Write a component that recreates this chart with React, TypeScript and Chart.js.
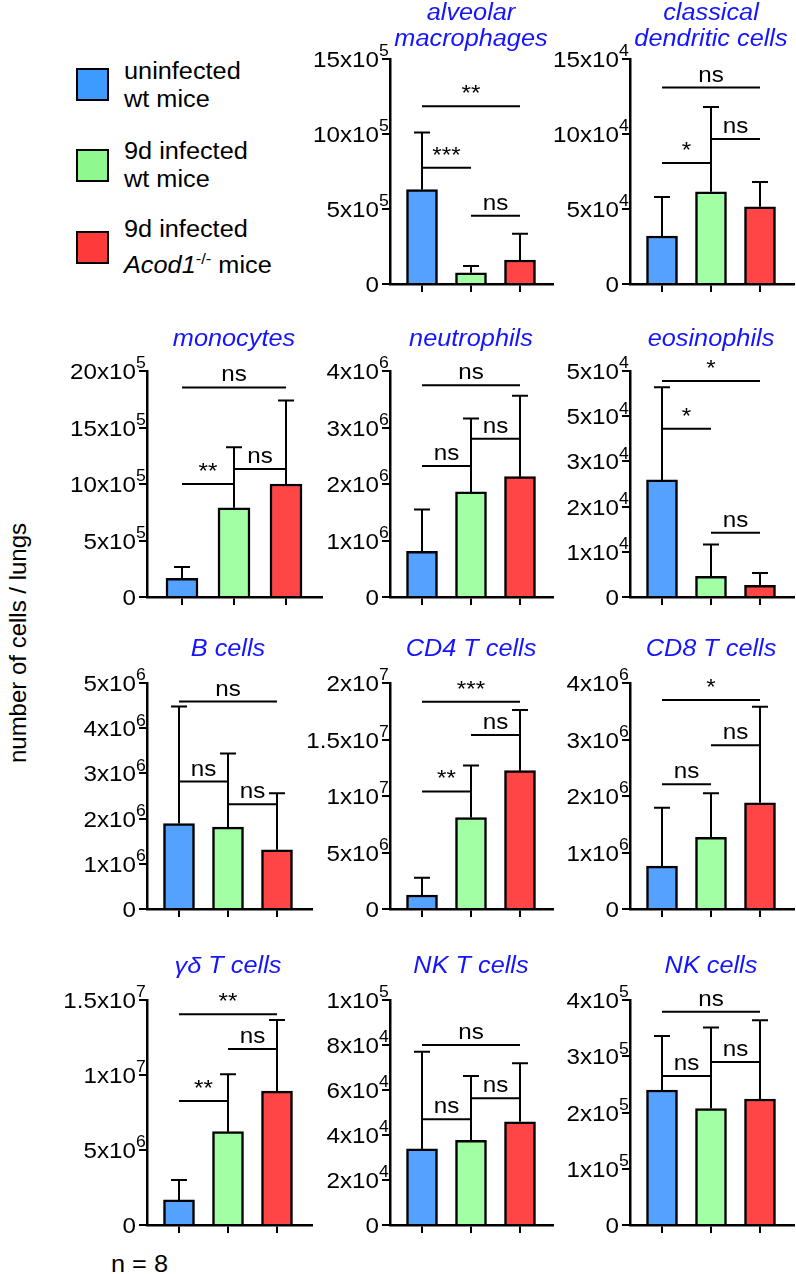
import React, { useEffect, useRef } from 'react';
import { Chart, registerables } from 'chart.js';
Chart.register(...registerables);

const FONT = '"Liberation Sans", Arial, Helvetica, sans-serif';
const SX = 1.1; // horizontal text stretch seen in the reference
const TITLE_COLOR = '#1414FF';

// ---------- data ----------
const groups = ['uninfected wt mice', '9d infected wt mice', '9d infected Acod1-/- mice'];
const barColors = ['#55A1FF', '#A3FFA3', '#FF4545'];
const legendColors = ['#3D9BFF', '#8FF88F', '#FF3A3A'];
const categories = [0, 1, 2];

const amMean = [6.3e5, 0.75e5, 1.6e5];
const amSD = [3.8e5, 0.45e5, 1.75e5];
const amTicks = ['0', '5x10^5', '10x10^5', '15x10^5'];
const amSig = [[0, 2, 11.85e5, '**'], [0, 1, 7.75e5, '***'], [1, 2, 4.55e5, 'ns']];

const cdcMean = [3.2e4, 6.15e4, 5.15e4];
const cdcSD = [2.6e4, 5.65e4, 1.65e4];
const cdcTicks = ['0', '5x10^4', '10x10^4', '15x10^4'];
const cdcSig = [[0, 2, 13.1e4, 'ns'], [0, 1, 8.07e4, '*'], [1, 2, 9.67e4, 'ns']];

const monoMean = [1.65e5, 7.9e5, 10.0e5];
const monoSD = [1.0e5, 5.35e5, 7.4e5];
const monoTicks = ['0', '5x10^5', '10x10^5', '15x10^5', '20x10^5'];
const monoSig = [[0, 2, 18.55e5, 'ns'], [0, 1, 10.0e5, '**'], [1, 2, 11.33e5, 'ns']];

const neuMean = [0.81e6, 1.86e6, 2.13e6];
const neuSD = [0.74e6, 1.3e6, 1.43e6];
const neuTicks = ['0', '1x10^6', '2x10^6', '3x10^6', '4x10^6'];
const neuSig = [[0, 2, 3.75e6, 'ns'], [0, 1, 2.32e6, 'ns'], [1, 2, 2.8e6, 'ns']];

const eosMean = [2.59e4, 0.46e4, 0.26e4];
const eosSD = [2.05e4, 0.7e4, 0.27e4];
const eosTicks = ['0', '1x10^4', '2x10^4', '3x10^4', '5x10^4', '5x10^4'];
const eosSig = [[0, 2, 4.78e4, '*'], [0, 1, 3.72e4, '*'], [1, 2, 1.42e4, 'ns']];

const bMean = [1.89e6, 1.81e6, 1.31e6];
const bSD = [2.59e6, 1.63e6, 1.25e6];
const bTicks = ['0', '1x10^6', '2x10^6', '3x10^6', '4x10^6', '5x10^6'];
const bSig = [[0, 2, 4.59e6, 'ns'], [0, 1, 2.82e6, 'ns'], [1, 2, 2.32e6, 'ns']];

const cd4Mean = [1.24e6, 8.1e6, 12.24e6];
const cd4SD = [1.53e6, 4.6e6, 5.36e6];
const cd4Ticks = ['0', '5x10^6', '1x10^7', '1.5x10^7', '2x10^7'];
const cd4Sig = [[0, 2, 1.835e7, '***'], [0, 1, 1.04e7, '**'], [1, 2, 1.54e7, 'ns']];

const cd8Mean = [0.76e6, 1.27e6, 1.88e6];
const cd8SD = [1.03e6, 0.78e6, 1.7e6];
const cd8Ticks = ['0', '1x10^6', '2x10^6', '3x10^6', '4x10^6'];
const cd8Sig = [[0, 2, 3.7e6, '*'], [0, 1, 2.21e6, 'ns'], [1, 2, 2.9e6, 'ns']];

const gdMean = [1.67e6, 6.22e6, 8.93e6];
const gdSD = [1.33e6, 3.83e6, 4.74e6];
const gdTicks = ['0', '5x10^6', '1x10^7', '1.5x10^7'];
const gdSig = [[0, 2, 1.405e7, '**'], [0, 1, 0.827e7, '**'], [1, 2, 1.173e7, 'ns']];

const nktMean = [3.38e4, 3.76e4, 4.59e4];
const nktSD = [4.32e4, 2.86e4, 2.6e4];
const nktTicks = ['0', '2x10^4', '4x10^4', '6x10^4', '8x10^4', '1x10^5'];
const nktSig = [[0, 2, 8.0e4, 'ns'], [0, 1, 4.7e4, 'ns'], [1, 2, 5.63e4, 'ns']];

const nkMean = [2.4e5, 2.07e5, 2.24e5];
const nkSD = [0.96e5, 1.44e5, 1.4e5];
const nkTicks = ['0', '1x10^5', '2x10^5', '3x10^5', '4x10^5'];
const nkSig = [[0, 2, 3.79e5, 'ns'], [0, 1, 2.65e5, 'ns'], [1, 2, 2.9e5, 'ns']];

// ---------- layout ----------
const COL = {
  c1: { axisX: 147, c0: 179, c2: 277, endX: 312, barW: 31 },
  c1m: { axisX: 147, c0: 182, c2: 286, endX: 322, barW: 32 },
  c2: { axisX: 390, c0: 422, c2: 520, endX: 553, barW: 31 },
  c3: { axisX: 630, c0: 662, c2: 760, endX: 794, barW: 31 },
};
const ROW = [
  { top: 59, bottom: 284, titleBase: [20, 46] },
  { top: 371, bottom: 597, titleBase: [346] },
  { top: 683, bottom: 909, titleBase: [656] },
  { top: 1000, bottom: 1225, titleBase: [973] },
];

const panels = [
  { title: ['alveolar', 'macrophages'], mean: amMean, sd: amSD, ticks: amTicks, step: 5e5, sig: amSig, col: COL.c2, row: ROW[0] },
  { title: ['classical', 'dendritic cells'], mean: cdcMean, sd: cdcSD, ticks: cdcTicks, step: 5e4, sig: cdcSig, col: COL.c3, row: ROW[0] },
  { title: ['monocytes'], mean: monoMean, sd: monoSD, ticks: monoTicks, step: 5e5, sig: monoSig, col: COL.c1m, row: ROW[1] },
  { title: ['neutrophils'], mean: neuMean, sd: neuSD, ticks: neuTicks, step: 1e6, sig: neuSig, col: COL.c2, row: ROW[1] },
  { title: ['eosinophils'], mean: eosMean, sd: eosSD, ticks: eosTicks, step: 1e4, sig: eosSig, col: COL.c3, row: ROW[1] },
  { title: ['B cells'], mean: bMean, sd: bSD, ticks: bTicks, step: 1e6, sig: bSig, col: COL.c1, row: ROW[2] },
  { title: ['CD4 T cells'], mean: cd4Mean, sd: cd4SD, ticks: cd4Ticks, step: 5e6, sig: cd4Sig, col: COL.c2, row: ROW[2] },
  { title: ['CD8 T cells'], mean: cd8Mean, sd: cd8SD, ticks: cd8Ticks, step: 1e6, sig: cd8Sig, col: COL.c3, row: ROW[2] },
  { title: ['γδ T cells'], mean: gdMean, sd: gdSD, ticks: gdTicks, step: 5e6, sig: gdSig, col: COL.c1, row: ROW[3] },
  { title: ['NK T cells'], mean: nktMean, sd: nktSD, ticks: nktTicks, step: 2e4, sig: nktSig, col: COL.c2, row: ROW[3] },
  { title: ['NK cells'], mean: nkMean, sd: nkSD, ticks: nkTicks, step: 1e5, sig: nkSig, col: COL.c3, row: ROW[3] },
];

const L = 95; // label space left of y axis
const PT = 59; // space above plot
const XH = 14; // x-axis tick space
const PR = 4;

function drawText(ctx: CanvasRenderingContext2D, text: string, x: number, y: number, align: string, font: string, baseline: CanvasTextBaseline = 'alphabetic') {
  ctx.save();
  ctx.font = font;
  const w = ctx.measureText(text).width * SX;
  let lx = x;
  if (align === 'center') lx = x - w / 2;
  else if (align === 'right') lx = x - w;
  ctx.translate(lx, y);
  ctx.scale(SX, 1);
  ctx.textAlign = 'left';
  ctx.textBaseline = baseline;
  ctx.fillText(text, 0, 0);
  ctx.restore();
  return w;
}

function makePlugin(p: any, canvasTop: number) {
  return {
    id: 'panelDecor',
    afterDatasetsDraw(chart: any) {
      const ctx: CanvasRenderingContext2D = chart.ctx;
      const xs = chart.scales.x;
      const ys = chart.scales.y;
      ctx.save();
      ctx.strokeStyle = '#000';
      ctx.fillStyle = '#000';
      ctx.lineWidth = 2;
      // error bars (upper whisker)
      p.mean.forEach((m: number, i: number) => {
        const x = xs.getPixelForValue(categories[i]);
        const y1 = ys.getPixelForValue(m);
        const y2 = ys.getPixelForValue(m + p.sd[i]);
        ctx.beginPath();
        ctx.moveTo(x, y1);
        ctx.lineTo(x, y2);
        ctx.moveTo(x - 8, y2);
        ctx.lineTo(x + 8, y2);
        ctx.stroke();
      });
      // significance brackets
      p.sig.forEach((s: any) => {
        const xa = xs.getPixelForValue(s[0]);
        const xb = xs.getPixelForValue(s[1]);
        const y = ys.getPixelForValue(s[2]);
        ctx.beginPath();
        ctx.moveTo(xa, y);
        ctx.lineTo(xb, y);
        ctx.stroke();
        drawText(ctx, s[3], (xa + xb) / 2, y - 6, 'center', `22px ${FONT}`);
      });
      // y tick labels with superscripts
      const ax = chart.chartArea.left;
      p.ticks.forEach((lab: string, i: number) => {
        const y = ys.getPixelForValue(i * p.step);
        const [base, sup] = lab.split('^');
        drawText(ctx, base, ax - 11, y + 2, 'right', `22px ${FONT}`, 'middle');
        if (sup) drawText(ctx, sup, ax - 11, y - 7, 'left', `16px ${FONT}`, 'middle');
      });
      // title
      ctx.fillStyle = TITLE_COLOR;
      const cx = xs.getPixelForValue(1);
      p.title.forEach((t: string, k: number) => {
        drawText(ctx, t, cx, p.row.titleBase[k] - canvasTop, 'center', `italic 23px ${FONT}`);
      });
      ctx.restore();
    },
  };
}

function Panel({ p }: { p: any }) {
  const ref = useRef<HTMLCanvasElement>(null);
  const left = p.col.axisX - L;
  const top = p.row.top - PT;
  const width = L + (p.col.endX - p.col.axisX) + PR;
  const height = PT + (p.row.bottom - p.row.top) + XH;
  useEffect(() => {
    const s = (p.col.c2 - p.col.c0) / 2;
    const xmin = -(p.col.c0 - p.col.axisX) / s;
    const xmax = 2 + (p.col.endX - p.col.c2) / s;
    const axisCommon = {
      grid: { display: true, drawOnChartArea: false, drawTicks: true, tickLength: 8, color: '#000', lineWidth: 2, offset: false },
      border: { display: true, color: '#000', width: 2.5 },
      ticks: { display: false },
    };
    const chart = new Chart(ref.current as HTMLCanvasElement, {
      type: 'bar',
      data: {
        datasets: [
          {
            data: p.mean.map((v: number, i: number) => ({ x: categories[i], y: v })),
            backgroundColor: barColors,
            borderColor: '#000',
            borderWidth: 2.5,
            borderSkipped: 'start',
            barThickness: p.col.barW,
          } as any,
        ],
      },
      options: {
        animation: false,
        responsive: false,
        devicePixelRatio: 1,
        layout: { padding: { top: PT, right: PR, left: 0, bottom: 0 } },
        plugins: { legend: { display: false }, tooltip: { enabled: false }, title: { display: false } },
        scales: {
          x: {
            ...axisCommon,
            type: 'linear',
            min: xmin,
            max: xmax,
            offset: false,
            afterBuildTicks: (sc: any) => {
              sc.ticks = categories.map((v) => ({ value: v }));
            },
            afterFit: (sc: any) => {
              sc.height = XH;
            },
          },
          y: {
            ...axisCommon,
            type: 'linear',
            min: 0,
            max: (p.ticks.length - 1) * p.step,
            afterBuildTicks: (sc: any) => {
              sc.ticks = p.ticks.map((_: string, i: number) => ({ value: i * p.step }));
            },
            afterFit: (sc: any) => {
              sc.width = L;
            },
          },
        } as any,
      },
      plugins: [makePlugin(p, top)],
    });
    return () => chart.destroy();
  }, []);
  return (
    <canvas
      ref={ref}
      width={width}
      height={height}
      style={{ position: 'absolute', left, top, width, height }}
    />
  );
}

const textStyle: React.CSSProperties = {
  position: 'absolute',
  fontFamily: FONT,
  fontSize: 23,
  lineHeight: '26px',
  whiteSpace: 'nowrap',
  color: '#000',
  transform: `scaleX(${SX})`,
  transformOrigin: 'left center',
};

const legendLines = [
  [['uninfected', 72], ['wt mice', 100]],
  [['9d infected', 152], ['wt mice', 180]],
  [['9d infected', 230], ['ACOD', 266]],
];
const legendBoxTop = [68, 149, 231];

export default function App() {
  return (
    <div style={{ position: 'absolute', left: 0, top: 0, width: 796, height: 1274, background: '#fff', overflow: 'hidden' }}>
      {groups.map((g, i) => (
        <div
          key={g}
          title={g}
          style={{
            position: 'absolute',
            left: 76,
            top: legendBoxTop[i],
            width: 29,
            height: 29,
            background: legendColors[i],
            border: '2px solid #000',
          }}
        />
      ))}
      {legendLines.map((lines, i) =>
        lines.map(([t, c], k) => (
          <div key={`${i}-${k}`} style={{ ...textStyle, left: 124, top: (c as number) - 14 }}>
            {t === 'ACOD' ? (
              <span>
                <i>Acod1</i>
                <sup style={{ fontSize: 15, verticalAlign: 0, position: 'relative', top: -9 }}>-/-</sup> mice
              </span>
            ) : (
              t
            )}
          </div>
        ))
      )}
      <div
        style={{
          position: 'absolute',
          left: 18,
          top: 643,
          fontFamily: FONT,
          fontSize: 24,
          whiteSpace: 'nowrap',
          transform: 'translate(-50%, -50%) rotate(-90deg)',
        }}
      >
        number of cells / lungs
      </div>
      <div style={{ ...textStyle, left: 111, top: 1251 }}>n = 8</div>
      {panels.map((p, i) => (
        <Panel key={i} p={p} />
      ))}
    </div>
  );
}
